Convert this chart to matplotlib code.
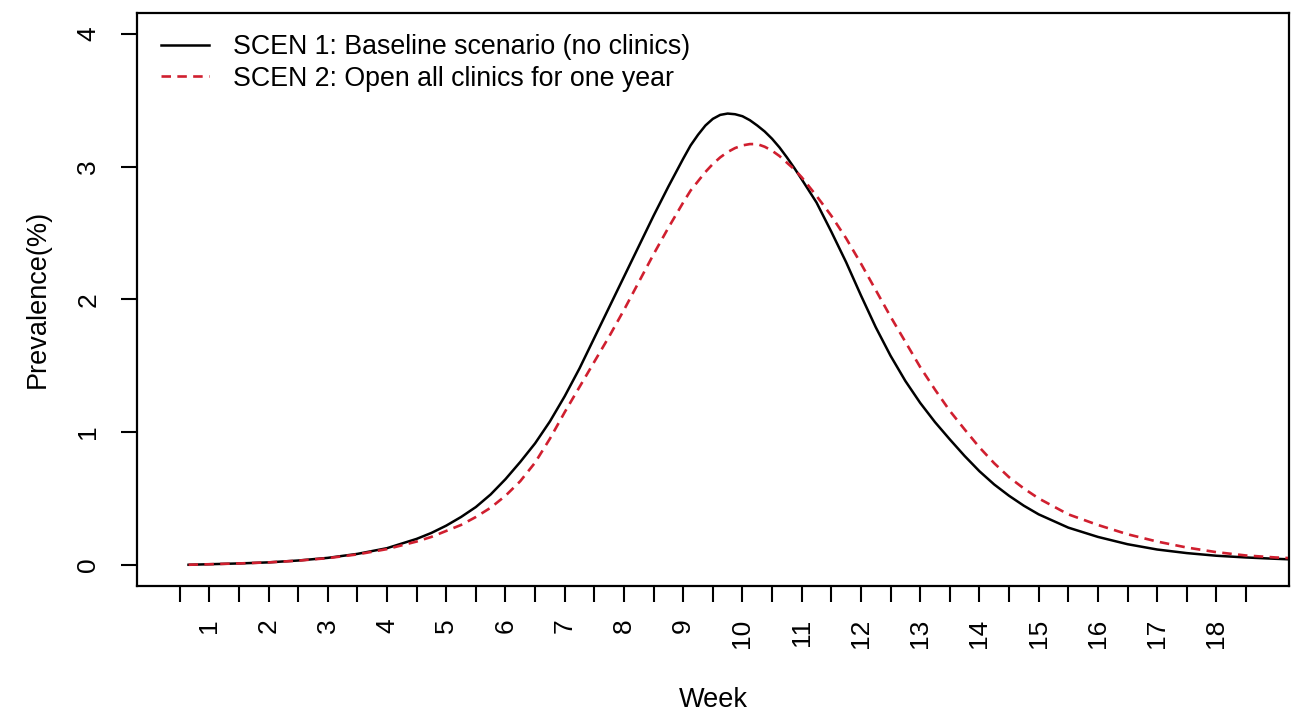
import numpy as np
import matplotlib.pyplot as plt

plt.rcParams['font.family'] = ['Liberation Sans', 'DejaVu Sans']

# week of epidemic and prevalence (%)
weeks = [0.65, 1.0, 1.5, 2.0, 2.5, 3.0, 3.5, 4.0, 4.5, 4.75, 5.0, 5.25, 5.5, 5.75,
         6.0, 6.25, 6.5, 6.75, 7.0, 7.25, 7.5, 7.75, 8.0, 8.25, 8.5, 8.75,
         9.0, 9.125, 9.25, 9.375, 9.5, 9.625, 9.75, 9.875, 10.0, 10.125, 10.25,
         10.375, 10.5, 10.625, 10.75, 10.875, 11.0, 11.25, 11.5, 11.75, 12.0,
         12.25, 12.5, 12.75, 13.0, 13.25, 13.5, 13.75, 14.0, 14.25, 14.5, 14.75,
         15.0, 15.5, 16.0, 16.5, 17.0, 17.5, 18.0, 18.5, 19.0, 19.4]
scen1 = [0.000, 0.004, 0.010, 0.018, 0.032, 0.052, 0.082, 0.125, 0.195, 0.24,
         0.295, 0.36, 0.435, 0.53, 0.645, 0.775, 0.915, 1.08, 1.27, 1.48, 1.71,
         1.94, 2.17, 2.40, 2.63, 2.85,
         3.06, 3.16, 3.24, 3.31, 3.36, 3.39, 3.40, 3.395, 3.38, 3.35, 3.31,
         3.265, 3.21, 3.145, 3.07, 2.99, 2.905, 2.73, 2.51, 2.28, 2.03,
         1.79, 1.575, 1.385, 1.22, 1.075, 0.945, 0.82, 0.705, 0.605, 0.52, 0.445,
         0.38, 0.28, 0.21, 0.155, 0.115, 0.088, 0.068, 0.055, 0.045, 0.038]
scen2 = [0.000, 0.004, 0.010, 0.018, 0.031, 0.050, 0.078, 0.118, 0.175, 0.21,
         0.255, 0.30, 0.36, 0.43, 0.52, 0.63, 0.77, 0.95, 1.15, 1.34, 1.53,
         1.72, 1.92, 2.13, 2.34, 2.54,
         2.73, 2.82, 2.89, 2.96, 3.02, 3.07, 3.11, 3.14, 3.16, 3.17, 3.17,
         3.15, 3.12, 3.08, 3.03, 2.98, 2.92, 2.78, 2.63, 2.46, 2.27,
         2.07, 1.87, 1.68, 1.49, 1.32, 1.16, 1.02, 0.885, 0.765, 0.66, 0.575,
         0.50, 0.38, 0.30, 0.23, 0.175, 0.13, 0.095, 0.07, 0.055, 0.047]

labels = ['SCEN 1: Baseline scenario (no clinics)',
          'SCEN 2: Open all clinics for one year']
week_ticks = np.arange(0.5, 19.0, 0.5)
week_labels = [str(int(t)) if t == int(t) else '' for t in week_ticks]

fig = plt.figure(figsize=(12.95, 7.11), dpi=100)
ax = fig.add_axes([137 / 1295, 1 - 586 / 711, 1152 / 1295, 573.3 / 711])

ax.plot(weeks, scen1, color='black', lw=1.8, label=labels[0])
ax.plot(weeks, scen2, color='#d01f2f', lw=1.9, dashes=(3.6, 2.4), label=labels[1])

ax.set_xlim(-0.22, 19.226)
ax.set_ylim(-0.16, 4.16)

ax.set_xticks(week_ticks)
ax.set_xticklabels(week_labels, rotation=90, fontsize=19)
ax.set_yticks([0, 1, 2, 3, 4])
ax.set_yticklabels(['0', '1', '2', '3', '4'], rotation=90, fontsize=19)
for lbl in ax.get_yticklabels():
    lbl.set_va('center')

ax.tick_params(axis='x', length=11.5, width=1.5, pad=12)
ax.tick_params(axis='y', length=11.5, width=1.5, pad=15)
for s in ax.spines.values():
    s.set_linewidth(1.6)

ax.set_xlabel('Week', fontsize=19.5, labelpad=28)
ax.set_ylabel('Prevalence(%)', fontsize=19.5, labelpad=18)

ax.legend(loc='upper left', bbox_to_anchor=(0.0208, 0.963), frameon=False,
          fontsize=19.3, borderpad=0, borderaxespad=0, handlelength=1.8,
          handletextpad=0.9, labelspacing=0.22)

fig.savefig('out.png', dpi=100)
